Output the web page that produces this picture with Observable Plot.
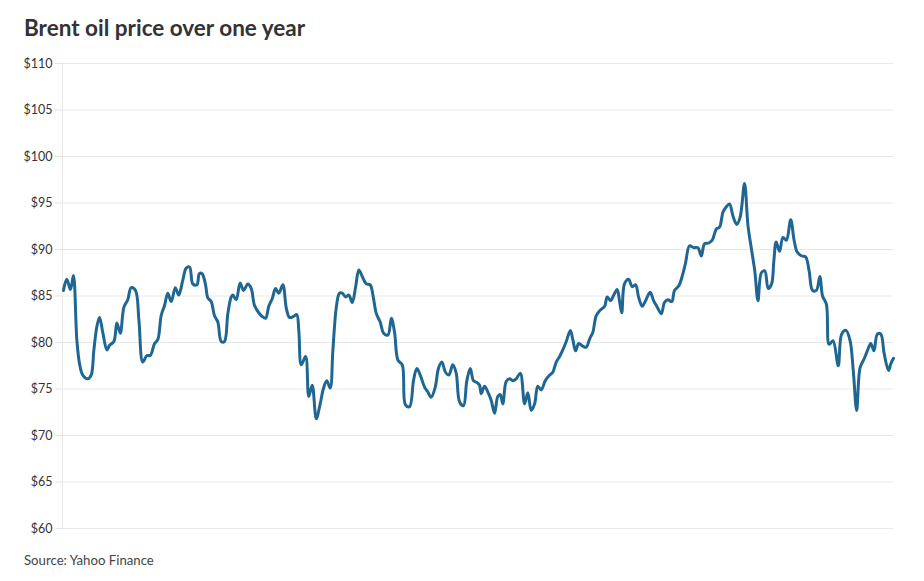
<!DOCTYPE html>
<html>
<head>
<meta charset="utf-8">
<script src="https://cdn.jsdelivr.net/npm/d3@7"></script>
<script src="https://cdn.jsdelivr.net/npm/@observablehq/plot@0.6"></script>
<style>
  html, body { margin: 0; padding: 0; background: #fff; }
  body { width: 924px; height: 581px; position: relative; font-family: Lato, "Noto Sans", sans-serif; }
  #title { position: absolute; left: 24px; top: 14px; font-size: 22.5px; font-weight: 700; color: #333; letter-spacing: 0px; }
  #chart { position: absolute; left: 0; top: 45px; }
  #source { position: absolute; left: 24px; top: 552px; font-size: 13.2px; color: #444; }
</style>
</head>
<body>
<div id="title">Brent oil price over one year</div>
<div id="chart"></div>
<div id="source">Source: Yahoo Finance</div>
<script>
// Day offset within the year (read from horizontal position) and Brent price in USD
const days = [0.4,1.9,3.5,4.8,6.3,7.5,8.9,11.1,12.6,13.8,15.1,16.3,17.7,19.5,20.7,22.6,23.9,25.4,27.0,28.7,30.2,32.1,33.6,35.3,37.1,38.6,40.5,41.9,43.4,44.9,46.3,47.8,49.6,51.1,52.9,54.4,55.9,57.3,59.1,60.2,61.4,62.9,63.9,65.4,66.8,68.3,69.8,71.2,72.7,74.2,74.9,76.4,78.1,79.6,81.5,83.0,84.4,86.3,87.8,89.3,90.7,92.2,93.7,95.1,96.9,98.4,99.8,101.6,103.0,103.9,105.0,106.9,108.3,109.8,111.6,113.3,114.8,116.2,117.7,118.9,120.4,121.8,123.0,124.5,125.9,127.4,128.9,130.3,131.8,133.6,135.3,136.5,138.0,139.7,141.2,143.1,144.6,146.0,147.5,149.4,150.8,152.6,154.4,155.8,157.3,159.2,160.6,162.1,163.9,165.3,166.8,168.4,169.9,171.6,173.1,174.6,176.3,177.8,179.3,180.7,182.2,183.4,184.1,185.6,187.0,188.5,190.0,191.4,192.5,193.6,195.1,196.6,198.0,199.5,201.3,203.2,204.6,206.1,207.6,209.0,210.5,212.3,214.2,215.6,217.1,218.6,220.0,221.5,223.3,224.4,225.6,227.0,228.8,230.3,231.8,233.2,234.7,236.5,238.4,239.5,241.0,242.4,243.9,244.9,245.9,247.1,248.9,250.5,252.0,253.3,254.9,256.4,258.4,259.9,261.3,263.3,264.7,266.2,267.9,269.1,271.0,272.8,274.0,275.7,277.5,279.4,280.9,282.3,284.2,285.7,287.5,288.9,290.4,291.9,293.3,294.8,296.5,298.0,299.9,301.4,302.9,304.4,305.8,307.3,308.8,310.3,311.8,312.8,313.8,315.3,316.8,318.3,320.2,321.7,323.1,325.1,326.8,328.3,329.8,331.5,333.0,334.2,335.9,337.1,338.8,341.1,342.6,344.5,346.3,347.7,349.2,350.7,352.4,353.9,355.4,356.8,358.3,359.8,361.3,363.2,364.2,365.4];
const prices = [85.6,86.8,85.7,87.2,80.3,77.7,76.5,76.1,76.5,79.2,81.7,82.7,81.1,79.2,79.7,80.1,82.1,81.0,83.8,84.6,85.9,85.6,82.4,77.9,78.6,78.6,79.9,80.3,82.9,84.0,85.3,84.4,85.9,85.1,86.7,88.0,88.1,86.3,86.2,87.4,87.4,86.2,84.8,84.4,82.9,82.2,80.1,80.1,83.1,84.9,85.1,84.6,86.4,85.6,86.3,85.8,84.0,83.2,82.8,82.6,83.9,84.7,85.8,85.3,86.2,83.7,82.7,82.8,83.0,81.3,77.6,78.5,74.2,75.4,71.8,73.4,75.1,75.9,75.1,79.2,83.8,85.3,85.3,84.9,85.1,84.3,86.0,87.8,87.1,86.3,86.2,85.1,83.1,82.2,81.0,80.8,82.6,81.1,78.1,77.6,73.3,73.1,76.0,77.2,76.5,75.2,74.7,74.1,75.2,77.2,77.9,76.8,76.5,77.6,76.7,73.6,73.2,75.9,77.2,75.9,75.7,75.4,74.5,75.3,74.7,73.8,72.4,74.2,74.4,73.4,75.8,76.1,75.9,76.1,76.7,73.4,74.6,72.7,73.4,75.3,74.9,75.9,76.5,76.8,77.9,78.5,79.2,80.1,81.3,80.3,79.1,79.9,79.6,79.5,80.4,81.1,82.9,83.5,83.9,84.9,84.5,85.1,85.7,84.5,83.2,86.3,86.8,86.0,86.2,84.9,83.9,84.5,85.4,84.5,83.9,83.1,84.3,84.6,84.4,85.6,86.1,87.4,88.6,90.4,90.2,90.2,89.3,90.6,90.7,91.0,92.2,92.4,94.0,94.6,94.9,93.6,92.7,93.5,97.1,92.6,90.1,87.7,84.5,87.5,87.7,85.8,86.3,88.8,90.8,89.8,91.3,91.0,93.2,91.0,89.7,89.3,89.2,87.7,85.6,85.6,87.1,85.0,84.1,79.8,80.2,77.5,80.9,81.3,80.2,77.0,72.7,77.3,78.2,79.1,79.9,79.1,80.9,80.9,78.8,77.0,77.7,78.3];
const yTicks = [60,65,70,75,80,85,90,95,100,105,110];

const data = days.map((d, i) => ({day: d, price: prices[i]}));

const chart = Plot.plot({
  width: 924,
  height: 493,
  marginTop: 18,
  marginBottom: 10,
  marginLeft: 62,
  marginRight: 31,
  style: {fontFamily: "Lato, 'Noto Sans', sans-serif", fontSize: "12.5px", color: "#333", background: "#fff"},
  x: {domain: [0, 365.4], axis: null},
  y: {domain: [60, 110], ticks: yTicks},
  marks: [
    Plot.gridY(yTicks, {stroke: "#e8e8e8", strokeOpacity: 1}),
    Plot.axisY(yTicks, {tickSize: 7, tickPadding: 3, stroke: "#e3e3e3", fill: "#333", label: null, tickFormat: d => "$" + d}),
    Plot.ruleX([0], {stroke: "#e8e8e8"}),
    Plot.line(data, {x: "day", y: "price", stroke: "#1f6792", strokeWidth: 3, curve: "catmull-rom"})
  ]
});
document.getElementById("chart").appendChild(chart);
</script>
</body>
</html>
